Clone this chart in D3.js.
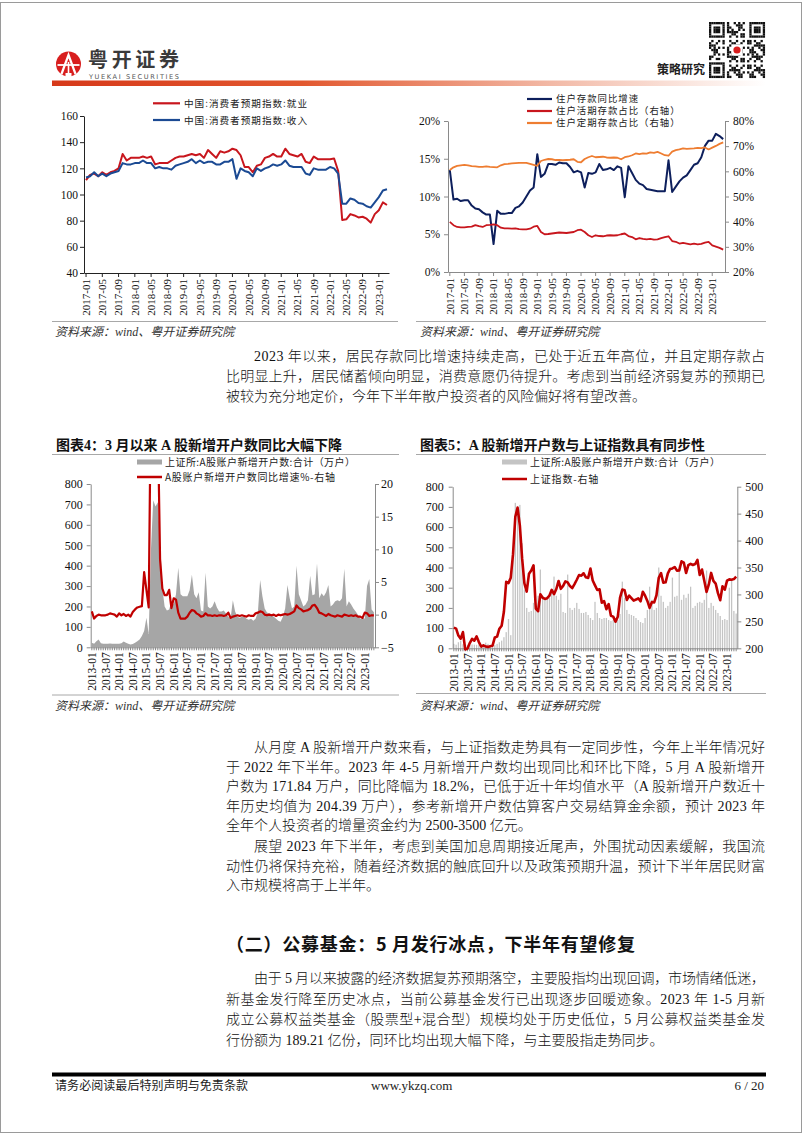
<!DOCTYPE html>
<html><head><meta charset="utf-8">
<script src="https://cdn.jsdelivr.net/npm/d3@7"></script>
<style>
html,body{margin:0;padding:0;background:#fff;}
svg{display:block;}
</style></head>
<body>
<svg id="page" width="802" height="1133"></svg>
<script>
// ---------------- DATA ----------------
function monthRange(start, n) {
  const [y, m] = start.split("-").map(Number);
  const out = [];
  for (let i = 0; i < n; i++) {
    const t = y * 12 + (m - 1) + i;
    out.push(Math.floor(t / 12) + "-" + String(t % 12 + 1).padStart(2, "0"));
  }
  return out;
}

// Chart 1: consumer expectation index
const c1Categories = monthRange("2017-01", 75);
const c1Employment = [
  111,115,116,114,117,115,117,118,120,131,126,128,
  128,128,129,128,129,123,124,124,124,126,128,129,
  129,130,131,130,131,128,134,131,128,133,132,133,
  135,134,130,121,121,117,122,123,128,129,131,129,
  129,135,131,130,129,131,125,124,129,127,127,127,
  127,127.5,118,80.5,81,85,84,82.5,83,81.5,78.5,85,
  88,94,92];
const c1Income = [
  113,114,117,114,116,114,116,117,118,124,123,123,
  124,124,126,124,124,120,121,120,120,119,122,123,
  124,125,127,124,126,124,125,125,123,123,125,125,
  127,112,120,118,117,114,120,118,120,121,123,122,
  123,126,122,121,121,121,116,115,120,119,119,119,
  121,120,116,93,93,97,96,93.5,93,91,90,94,
  98,103,104];
const c1TickLabels = ["2017-01","2017-05","2017-09","2018-01","2018-05","2018-09","2019-01","2019-05","2019-09","2020-01","2020-05","2020-09","2021-01","2021-05","2021-09","2022-01","2022-05","2022-09","2023-01"];
const c1YTicks = [40,60,80,100,120,140,160];
const c1Names = ["中国:消费者预期指数:就业","中国:消费者预期指数:收入"];

// Chart 2: household deposits
const c2Categories = monthRange("2017-01", 76);
const c2DepositYoY = [
  13.5,9.6,9.7,9.4,9.5,9.5,8.8,8.4,8.3,7.9,7.6,7.6,
  3.7,8.1,7.7,7.7,7.8,7.8,8.5,8.7,9.2,10.0,10.8,11.2,
  15.6,12.6,13.0,14.3,14.3,14.2,14.5,14.4,14.4,13.9,13.2,13.4,
  13.2,11.2,13.1,13.0,13.2,14.3,13.5,13.6,13.8,13.5,14.0,13.8,
  9.9,14.0,13.1,12.2,11.7,11.5,11.0,10.9,10.8,10.7,10.7,10.7,
  14.8,10.6,11.3,12.0,12.5,12.8,13.5,14.2,14.4,15.2,16.7,17.4,
  17.4,18.3,18.0,17.6];
const c2DemandShare = [
  39.9,38.6,37.9,37.7,37.7,37.9,38.0,38.6,38.2,37.9,38.6,38.7,
  38.9,38.6,37.6,37.3,37.3,37.2,37.3,37.0,36.9,36.9,37.2,38.0,
  38.3,35.9,35.0,35.1,35.3,35.5,35.7,35.6,35.5,35.7,35.9,36.6,
  36.8,35.9,34.6,33.9,34.6,34.3,34.2,34.5,34.6,34.5,34.6,35.0,
  35.3,34.3,33.9,33.0,33.5,33.2,33.0,33.2,32.9,33.0,33.5,33.9,
  34.2,32.3,32.0,31.3,31.6,31.3,31.0,31.3,31.0,31.2,31.7,32.0,
  30.6,30.1,29.6,28.9];
const c2TimeShare = [
  60.5,61.6,62.2,62.4,62.6,62.4,62.1,62.0,61.8,61.8,62.0,61.8,
  61.7,61.6,62.4,62.9,63.0,63.2,63.3,63.4,63.4,63.4,63.0,62.6,
  62.2,64.1,64.6,64.9,64.8,64.5,64.5,64.4,64.5,64.6,64.8,63.8,
  63.6,64.9,65.6,66.1,65.6,65.7,65.8,65.5,65.4,65.5,65.4,64.8,
  65.6,65.9,66.4,67.1,66.8,67.1,67.0,67.5,67.3,67.7,67.1,66.4,
  66.2,67.8,68.4,68.7,69.1,68.9,69.0,69.1,69.3,69.2,69.5,68.7,
  69.4,70.1,70.9,71.5];
const c2TickLabels = c1TickLabels;
const c2LeftTicks = [0,5,10,15,20];
const c2RightTicks = [20,30,40,50,60,70,80];
const c2Names = ["住户存款同比增速","住户活期存款占比（右轴）","住户定期存款占比（右轴）"];

// Charts 3 & 4: new A-share accounts
const c3Categories = monthRange("2013-01", 125);
const newAccounts = [
  22,18,30,38,20,18,17,17,19,18,17,18,
  18,20,28,22,17,14,16,22,30,38,55,80,
  145,65,480,720,690,710,520,290,200,180,185,225,
  210,260,390,260,250,250,250,280,355,260,240,270,
  180,175,365,200,190,200,225,195,175,175,180,165,
  150,140,230,175,150,145,150,150,140,135,140,130,
  140,170,330,250,190,170,165,160,150,140,130,125,
  150,190,305,240,190,200,400,260,230,200,210,230,
  350,255,260,410,240,265,250,270,305,200,210,225,
  230,225,240,385,200,225,210,190,175,160,140,145,
  140,300,335,185,172];
const newAccountsYoY = [
  0.5,-0.6,-0.2,0.0,-0.1,-0.1,-0.1,0.0,0.2,0.1,0.0,-0.3,
  0.2,-0.1,0.1,-0.2,0.0,-0.3,0.4,0.8,1.1,1.2,1.3,6.5,
  3.8,1.1,35,45,40,30,8.5,4.0,3.0,3.0,3.8,1.0,
  2.5,2.3,0.3,-0.6,-0.6,-0.6,-0.3,0.3,0.7,0.6,0.2,0.0,
  -0.3,-0.2,0.2,-0.1,-0.1,-0.2,-0.1,-0.2,-0.1,-0.1,-0.2,-0.1,
  0.3,-0.5,-0.3,-0.2,-0.1,-0.2,-0.1,-0.2,-0.3,-0.1,-0.2,-0.2,
  0.2,0.3,0.5,0.4,0.0,-0.1,0.0,-0.1,0.0,-0.2,0.0,-0.1,
  0.0,0.1,0.0,0.1,0.3,0.5,1.4,1.0,0.8,0.5,0.6,0.7,
  0.9,1.4,1.5,1.0,0.3,0.2,0.0,-0.2,0.1,-0.1,-0.2,-0.3,
  -0.1,-0.2,-0.3,0.0,-0.1,-0.2,-0.1,-0.2,-0.1,-0.3,-0.3,-0.5,
  0.3,0.2,-0.2,-0.1,-0.1];
const sseIndex = [
  238.5,236.6,223.7,217.8,230.1,197.9,199.4,209.8,217.5,214.1,222.0,211.6,
  203.3,205.6,203.3,202.6,203.9,204.8,220.2,221.7,236.4,242.0,268.3,323.5,
  321.0,331.0,374.8,444.2,461.2,427.7,366.4,320.6,305.3,338.3,344.5,353.9,
  273.8,268.8,300.4,293.8,291.7,293.0,297.9,308.5,300.5,310.0,325.0,310.4,
  315.9,324.2,322.3,315.5,311.7,319.2,327.3,336.1,334.9,339.3,331.7,330.7,
  348.1,325.9,316.9,308.2,309.5,284.7,287.6,272.5,282.1,260.3,258.8,249.4,
  258.5,294.1,309.1,307.8,289.9,297.9,293.3,288.6,290.5,292.9,287.2,305.0,
  297.7,288.0,275.0,286.0,285.2,298.5,331.0,339.6,321.8,322.5,339.2,347.3,
  348.3,350.9,344.2,344.7,361.5,359.1,339.7,354.4,356.8,354.7,356.4,364.0,
  336.2,346.2,325.3,304.7,318.6,339.9,325.3,320.2,302.4,289.3,315.1,308.9,
  325.6,328.0,327.3,328.5,333.0];
const c3TickLabels = ["2013-01","2013-07","2014-01","2014-07","2015-01","2015-07","2016-01","2016-07","2017-01","2017-07","2018-01","2018-07","2019-01","2019-07","2020-01","2020-07","2021-01","2021-07","2022-01","2022-07","2023-01"];
const c3LeftTicks = [0,100,200,300,400,500,600,700,800];
const c3RightTicks = [-5,0,5,10,15,20];
const c4RightTicks = [200,250,300,350,400,450,500];
const c3Names = ["上证所:A股账户新增开户数:合计（万户）","A股账户新增开户数同比增速%-右轴"];
const c4Names = ["上证所:A股账户新增开户数:合计（万户）","上证指数-右轴"];

// ---------------- HELPERS ----------------
const svg = d3.select("#page");
const SERIF = "'Liberation Serif','Times New Roman',serif";
const CJK = "'Noto Sans CJK SC','Noto Sans SC',sans-serif";
const MIX = "'Liberation Serif','Noto Sans CJK SC',serif";
const RED = "#C00000";

function txt(str, x, y, opts = {}) {
  const t = svg.append("text").attr("x", x).attr("y", y)
    .attr("font-family", opts.family || MIX)
    .attr("font-size", opts.size || 14)
    .attr("fill", opts.fill || "#1a1a1a")
    .text(str);
  if (opts.weight) t.attr("font-weight", opts.weight);
  if (opts.anchor) t.attr("text-anchor", opts.anchor);
  if (opts.italic) t.attr("font-style", "italic");
  if (opts.ls) t.attr("letter-spacing", opts.ls);
  if (opts.len) t.attr("textLength", opts.len).attr("lengthAdjust", "spacing");
  return t;
}

function styleAxis(g, color, fontSize) {
  g.attr("font-family", SERIF).attr("font-size", fontSize);
  g.select(".domain").attr("stroke", color);
  g.selectAll(".tick line").attr("stroke", color);
  g.selectAll(".tick text").attr("fill", "#111");
}

function bottomAxis(scale, allTicks, labelSet, y, color, fontSize, tickSize) {
  const g = svg.append("g").attr("transform", `translate(0,${y})`)
    .call(d3.axisBottom(scale).tickValues(allTicks)
      .tickFormat(d => labelSet.has(d) ? d : "")
      .tickSize(tickSize).tickSizeOuter(0));
  styleAxis(g, color, fontSize);
  g.selectAll(".tick text")
    .attr("transform", "rotate(-90)")
    .attr("x", -(tickSize + 2)).attr("y", 0).attr("dy", "0.35em")
    .style("text-anchor", "end");
  return g;
}

function sourceBlock(x1, x2, lineY, textX, textY) {
  svg.append("line").attr("x1", x1).attr("x2", x2).attr("y1", lineY).attr("y2", lineY)
    .attr("stroke", "#a8a8a8").attr("stroke-width", 1);
  txt("资料来源：wind、粤开证券研究院", textX, textY, {size: 12, italic: true, fill: "#333"});
}

// ---------------- PAGE FRAME & HEADER ----------------
svg.append("rect").attr("x", 0.5).attr("y", 2.5).attr("width", 801).attr("height", 1130)
  .attr("fill", "none").attr("stroke", "#9a9a9a").attr("stroke-width", 1);

// logo emblem
const emb = svg.append("g").attr("transform", "translate(68.5,64)");
emb.append("circle").attr("r", 12.5).attr("fill", "#D81E1E");
emb.append("path").attr("d", "M-7,10 L0,-9 L7,10").attr("fill", "none").attr("stroke", "#fff").attr("stroke-width", 2.2);
emb.append("path").attr("d", "M-11,1 L11,1").attr("stroke", "#fff").attr("stroke-width", 1.8);
emb.append("path").attr("d", "M0,-2 L0,12").attr("stroke", "#fff").attr("stroke-width", 1.6);
emb.append("rect").attr("x", -3).attr("y", 9).attr("width", 6).attr("height", 4).attr("fill", "#fff");
txt("粤开证券", 88, 67, {family: CJK, size: 20, weight: 700, fill: "#3a3a3a", len: 91});
txt("YUEKAI SECURITIES", 89, 79, {family: "'DejaVu Sans',sans-serif", size: 6.6, fill: "#555", len: 90});

// gradient bar
const defs = svg.append("defs");
const grad = defs.append("linearGradient").attr("id", "hdrGrad").attr("x1", "0").attr("x2", "1");
grad.append("stop").attr("offset", "0").attr("stop-color", "#D6391A");
grad.append("stop").attr("offset", "0.35").attr("stop-color", "#E2582F");
grad.append("stop").attr("offset", "0.7").attr("stop-color", "#F2B9A6");
grad.append("stop").attr("offset", "1").attr("stop-color", "#ffffff");
svg.append("rect").attr("x", 52).attr("y", 80.5).attr("width", 714).attr("height", 5.5).attr("fill", "url(#hdrGrad)");

txt("策略研究", 657, 74, {family: CJK, size: 12, weight: 700, fill: "#222"});

// QR-like code block (decorative)
(function () {
  const n = 25, s = 2.24, ox = 709, oy = 22;
  const g = svg.append("g");
  g.append("rect").attr("x", ox - 1).attr("y", oy - 1).attr("width", n * s + 2).attr("height", n * s + 2).attr("fill", "#fff");
  function finder(r, c) {
    return (r < 7 && c < 7) || (r < 7 && c >= n - 7) || (r >= n - 7 && c < 7);
  }
  for (let r = 0; r < n; r++) for (let c = 0; c < n; c++) {
    let on;
    if (finder(r, c)) {
      const rr = r < 7 ? r : r - (n - 7), cc = c < 7 ? c : c - (n - 7);
      const d = Math.max(Math.abs(rr - 3), Math.abs(cc - 3));
      on = d !== 2;
    } else if ((r === 7 || c === 7 || r === n - 8 || c === n - 8) && (r < 8 || c < 8)) {
      on = false;
    } else {
      on = ((r * 31 + c * 17 + r * c * 7) % 11) < 5;
    }
    if (on) g.append("rect").attr("x", ox + c * s).attr("y", oy + r * s).attr("width", s + 0.05).attr("height", s + 0.05).attr("fill", "#111");
  }
  g.append("rect").attr("x", ox + 10 * s).attr("y", oy + 10 * s).attr("width", 5 * s).attr("height", 5 * s).attr("fill", "#fff");
  g.append("circle").attr("cx", ox + 12.5 * s).attr("cy", oy + 12.5 * s).attr("r", 3.6).attr("fill", "#D81E1E");
})();

// ---------------- CHART 1 ----------------
(function () {
  const L = 84, R = 389, T = 116, B = 273;
  const x = d3.scaleBand().domain(c1Categories).range([L, R]);
  const xc = d => x(d) + x.bandwidth() / 2;
  const y = d3.scaleLinear().domain([40, 160]).range([B, T]);
  const gy = svg.append("g").attr("transform", `translate(${L},0)`)
    .call(d3.axisLeft(y).tickValues(c1YTicks).tickSize(4).tickPadding(2).tickSizeOuter(0));
  styleAxis(gy, "#222", 11.5);
  bottomAxis(x, c1TickLabels, new Set(c1TickLabels), B, "#222", 11, 4);

  const series = [[c1Employment, "#C8161D"], [c1Income, "#1B4A93"]];
  series.forEach(([vals, col]) => {
    svg.append("path").datum(vals)
      .attr("d", d3.line().x((d, i) => xc(c1Categories[i])).y(d => y(d)))
      .attr("fill", "none").attr("stroke", col).attr("stroke-width", 2).attr("stroke-linejoin", "round");
  });
  const ly = [103.3, 120];
  series.forEach(([vals, col], i) => {
    svg.append("line").attr("x1", 153).attr("x2", 180).attr("y1", ly[i]).attr("y2", ly[i]).attr("stroke", col).attr("stroke-width", 2.2);
    txt(c1Names[i], 184, ly[i] + 3.6, {family: CJK, size: 9.6, fill: "#222", len: 123});
  });
  sourceBlock(52, 398, 321.5, 55, 336);
})();

// ---------------- CHART 2 ----------------
(function () {
  const L = 448, R = 725, T = 121, B = 272;
  const x = d3.scaleBand().domain(c2Categories).range([L, R]);
  const xc = d => x(d) + x.bandwidth() / 2;
  const yl = d3.scaleLinear().domain([0, 20]).range([B, T]);
  const yr = d3.scaleLinear().domain([20, 80]).range([B, T]);
  const gl = svg.append("g").attr("transform", `translate(${L},0)`)
    .call(d3.axisLeft(yl).tickValues(c2LeftTicks).tickFormat(d => d + "%").tickSize(4).tickPadding(4).tickSizeOuter(0));
  styleAxis(gl, "#8a8a8a", 11.5);
  const gr = svg.append("g").attr("transform", `translate(${R},0)`)
    .call(d3.axisRight(yr).tickValues(c2RightTicks).tickFormat(d => d + "%").tickSize(4).tickPadding(4).tickSizeOuter(0));
  styleAxis(gr, "#8a8a8a", 11.5);
  bottomAxis(x, c2TickLabels, new Set(c2TickLabels), B, "#8a8a8a", 11, 4);

  const defsL = [
    [c2DepositYoY, yl, "#0D1F5C", 2],
    [c2DemandShare, yr, "#C8161D", 1.8],
    [c2TimeShare, yr, "#EE7D31", 1.8]
  ];
  defsL.forEach(([vals, sc, col, w]) => {
    svg.append("path").datum(vals)
      .attr("d", d3.line().x((d, i) => xc(c2Categories[i])).y(d => sc(d)))
      .attr("fill", "none").attr("stroke", col).attr("stroke-width", w).attr("stroke-linejoin", "round");
  });
  const ly = [99, 111, 123];
  defsL.forEach(([vals, sc, col], i) => {
    svg.append("line").attr("x1", 527).attr("x2", 552).attr("y1", ly[i]).attr("y2", ly[i]).attr("stroke", col).attr("stroke-width", 2.2);
    txt(c2Names[i], 556, ly[i] + 3.4, {family: CJK, size: 9.4, fill: "#222", ls: 1});
  });
  sourceBlock(416, 766, 321.5, 420, 336);
})();

// ---------------- BODY TEXT ----------------
const TX = 226, TR = 765, INDENT = 28;
function paragraph(lines, centers) {
  lines.forEach((s, i) => {
    const x0 = i === 0 ? TX + INDENT : TX;
    const last = i === lines.length - 1;
    txt(s, x0, centers[i] + 5, {size: 14, fill: "#111", weight: 300, len: last ? null : TR - x0});
  });
}
const para1 = [
  "2023 年以来，居民存款同比增速持续走高，已处于近五年高位，并且定期存款占",
  "比明显上升，居民储蓄倾向明显，消费意愿仍待提升。考虑到当前经济弱复苏的预期已",
  "被较为充分地定价，今年下半年散户投资者的风险偏好将有望改善。"];
const para2 = [
  "从月度 A 股新增开户数来看，与上证指数走势具有一定同步性，今年上半年情况好",
  "于 2022 年下半年。2023 年 4-5 月新增开户数均出现同比和环比下降，5 月 A 股新增开",
  "户数为 171.84 万户，同比降幅为 18.2%，已低于近十年均值水平（A 股新增开户数近十",
  "年历史均值为 204.39 万户），参考新增开户数估算客户交易结算金余额，预计 2023 年",
  "全年个人投资者的增量资金约为 2500-3500 亿元。"];
const para3 = [
  "展望 2023 年下半年，考虑到美国加息周期接近尾声，外围扰动因素缓解，我国流",
  "动性仍将保持充裕，随着经济数据的触底回升以及政策预期升温，预计下半年居民财富",
  "入市规模将高于上半年。"];
const para4 = [
  "由于 5 月以来披露的经济数据复苏预期落空，主要股指均出现回调，市场情绪低迷，",
  "新基金发行降至历史冰点，当前公募基金发行已出现逐步回暖迹象。2023 年 1-5 月新",
  "成立公募权益类基金（股票型+混合型）规模均处于历史低位，5 月公募权益类基金发",
  "行份额为 189.21 亿份，同环比均出现大幅下降，与主要股指走势同步。"];
paragraph(para1, [356, 376, 396]);
paragraph(para2, [747, 766.5, 786, 805.5, 825]);
paragraph(para3, [846, 865.5, 885]);
txt("（二）公募基金：5 月发行冰点，下半年有望修复", 226, 950.5, {family: CJK, size: 18, weight: 700, fill: "#111", len: 409});
paragraph(para4, [978, 998.5, 1019, 1039.5]);

// ---------------- CHART 3 ----------------
(function () {
  const L = 90.7, R = 375, T = 484, B = 647.3;
  txt("图表4：3 月以来 A 股新增开户数同比大幅下降", 56, 450, {size: 14, weight: 700, fill: "#111", len: 286});
  svg.append("line").attr("x1", 52).attr("x2", 399).attr("y1", 454.5).attr("y2", 454.5).attr("stroke", "#a8a8a8");
  const x = d3.scaleBand().domain(c3Categories).range([L, R]);
  const xc = d => x(d) + x.bandwidth() / 2;
  const yl = d3.scaleLinear().domain([0, 800]).range([B, T]);
  const yr = d3.scaleLinear().domain([-5, 20]).range([B, T]);

  svg.append("path").datum(newAccounts)
    .attr("d", d3.area().x((d, i) => xc(c3Categories[i])).y0(B).y1(d => yl(d)))
    .attr("fill", "#A6A6A6");

  const gl = svg.append("g").attr("transform", `translate(${L},0)`)
    .call(d3.axisLeft(yl).tickValues(c3LeftTicks).tickSize(4).tickPadding(4).tickSizeOuter(0));
  styleAxis(gl, "#8a8a8a", 12);
  const gr = svg.append("g").attr("transform", `translate(${R},0)`)
    .call(d3.axisRight(yr).tickValues(c3RightTicks).tickSize(4).tickPadding(2).tickSizeOuter(0));
  styleAxis(gr, "#8a8a8a", 12);
  bottomAxis(x, c3Categories, new Set(c3TickLabels), B, "#8a8a8a", 11.5, 3);

  defs.append("clipPath").attr("id", "clip3").append("rect").attr("x", L).attr("y", T).attr("width", R - L).attr("height", B - T);
  svg.append("path").datum(newAccountsYoY).attr("clip-path", "url(#clip3)")
    .attr("d", d3.line().x((d, i) => xc(c3Categories[i])).y(d => yr(d)))
    .attr("fill", "none").attr("stroke", RED).attr("stroke-width", 2.2).attr("stroke-linejoin", "round");

  svg.append("rect").attr("x", 137).attr("y", 459.5).attr("width", 25).attr("height", 5).attr("fill", "#A6A6A6");
  txt(c3Names[0], 165, 465.5, {family: CJK, size: 10, fill: "#222", len: 190});
  svg.append("line").attr("x1", 137).attr("x2", 162).attr("y1", 477).attr("y2", 477).attr("stroke", RED).attr("stroke-width", 2.5);
  txt(c3Names[1], 165, 480.8, {family: CJK, size: 10, fill: "#222", len: 170});
  sourceBlock(52, 399, 695, 55, 710);
})();

// ---------------- CHART 4 ----------------
(function () {
  const L = 452.7, R = 737.3, T = 486.7, B = 648.3;
  txt("图表5：A 股新增开户数与上证指数具有同步性", 420, 450, {size: 14, weight: 700, fill: "#111", len: 285});
  svg.append("line").attr("x1", 416).attr("x2", 766).attr("y1", 454.5).attr("y2", 454.5).attr("stroke", "#a8a8a8");
  const x = d3.scaleBand().domain(c3Categories).range([L, R]);
  const xc = d => x(d) + x.bandwidth() / 2;
  const yl = d3.scaleLinear().domain([0, 800]).range([B, T]);
  const yr = d3.scaleLinear().domain([200, 500]).range([B, T]);

  svg.append("g").selectAll("rect").data(newAccounts).join("rect")
    .attr("x", (d, i) => x(c3Categories[i]) + x.bandwidth() * 0.22)
    .attr("width", x.bandwidth() * 0.56)
    .attr("y", d => yl(d)).attr("height", d => B - yl(d))
    .attr("fill", "#C4C4C4");

  const gl = svg.append("g").attr("transform", `translate(${L},0)`)
    .call(d3.axisLeft(yl).tickValues(c3LeftTicks).tickSize(4).tickPadding(5).tickSizeOuter(0));
  styleAxis(gl, "#8a8a8a", 12);
  const gr = svg.append("g").attr("transform", `translate(${R},0)`)
    .call(d3.axisRight(yr).tickValues(c4RightTicks).tickSize(4).tickPadding(4).tickSizeOuter(0));
  styleAxis(gr, "#8a8a8a", 12);
  bottomAxis(x, c3Categories, new Set(c3TickLabels), B, "#8a8a8a", 11.5, 3);

  svg.append("path").datum(sseIndex)
    .attr("d", d3.line().x((d, i) => xc(c3Categories[i])).y(d => yr(d)))
    .attr("fill", "none").attr("stroke", RED).attr("stroke-width", 2.6).attr("stroke-linejoin", "round");

  svg.append("rect").attr("x", 502).attr("y", 459.5).attr("width", 25).attr("height", 5).attr("fill", "#C4C4C4");
  txt(c4Names[0], 530, 465.5, {family: CJK, size: 10, fill: "#222", len: 190});
  svg.append("line").attr("x1", 502).attr("x2", 527).attr("y1", 479).attr("y2", 479).attr("stroke", RED).attr("stroke-width", 2.5);
  txt(c4Names[1], 530, 482.8, {family: CJK, size: 10, fill: "#222", ls: 0.8});
  sourceBlock(416, 766, 693.5, 420, 710);
})();

// ---------------- FOOTER ----------------
svg.append("rect").attr("x", 52).attr("y", 1072.5).attr("width", 714).attr("height", 4).attr("fill", "#000");
txt("请务必阅读最后特别声明与免责条款", 55, 1090, {size: 12, fill: "#222", len: 193});
txt("www.ykzq.com", 371, 1090, {family: SERIF, size: 13, fill: "#222"});
txt("6 / 20", 764, 1090, {family: SERIF, size: 13, fill: "#222", anchor: "end"});
</script>
</body></html>
